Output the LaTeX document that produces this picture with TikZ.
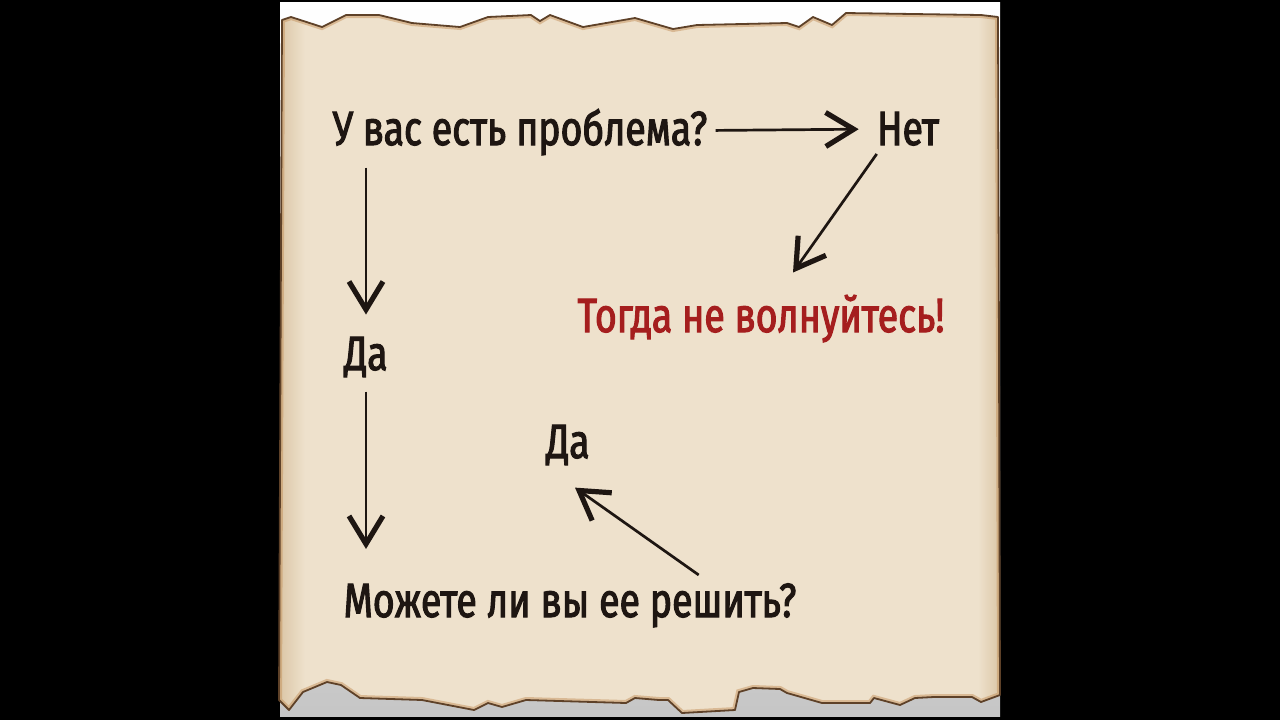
\documentclass[tikz,border=0pt]{standalone}
\usepackage{fontspec}
\setmainfont{Fira Sans}[FakeStretch=0.78, FakeBold=2.2]
\usetikzlibrary{arrows.meta,positioning,calc}

\definecolor{paper}{HTML}{EEE1CC}
\definecolor{paperdark}{HTML}{DBC6A6}
\definecolor{burnt}{HTML}{5E4128}
\definecolor{scorch}{HTML}{C08A52}
\definecolor{ink}{HTML}{1E1612}
\definecolor{alert}{HTML}{A51E1E}

\tikzset{
  txt/.style={font=\fontsize{24}{28}\selectfont, text=ink, inner sep=1pt, anchor=base},
  redtxt/.style={txt, text=alert},
  arr/.style={draw=ink, line width=1.35pt, -{Straight Barb[length=14pt,width=17pt,line width=2.6pt]}},
}

\def\parchment{(279,700) -- (282,20) -- (291,17) -- (322,27) -- (346,15) -- (379,15) -- (412,23)
  -- (460,27) -- (488,17) -- (531,15) -- (540,21) -- (550,15) -- (583,27) -- (635,18)
  -- (673,29) -- (697,25) -- (787,23) -- (799,27) -- (813,17) -- (832,25) -- (846,13)
  -- (981,15) -- (998,17) -- (1000,695) -- (981,702) -- (972,697) -- (934,697) -- (915,698)
  -- (900,705) -- (874,698) -- (870,703) -- (822,703) -- (787,693) -- (780,689) -- (753,688)
  -- (739,692) -- (735,710) -- (682,713) -- (668,700) -- (659,700) -- (635,698) -- (626,703)
  -- (526,700) -- (502,707) -- (488,703) -- (474,710) -- (422,700) -- (360,698) -- (341,685)
  -- (327,682) -- (303,692) -- (289,710) -- cycle}

\begin{document}
\begin{tikzpicture}[x=0.5pt,y=-0.5pt]
\fill[black] (0,0) rectangle (1280,720);
\useasboundingbox (0,0) rectangle (1280,720);

% sheet under the parchment
\shade[top color=white, bottom color=gray!45] (280,2) rectangle (1000,716);

% parchment
\fill[paper] \parchment;
\begin{scope}
  \clip \parchment;
  \shade[left color=paperdark, right color=paper] (279,0) rectangle (305,720);
  \shade[left color=paper, right color=paperdark] (978,0) rectangle (1000,720);
  \draw[scorch, opacity=.45, line width=3pt] \parchment;
\end{scope}
\draw[burnt, line width=.9pt, line join=round] \parchment;

% texts
\node[txt] (q1) at (520,145) {У вас есть проблема?};
\node[txt] (no) at (908,145) {Нет};
\node[redtxt] (calm) at (761,332) {Тогда не волнуйтесь!};
\node[txt] (yes1) at (366,370) {Да};
\node[txt] (yes2) at (568,458) {Да};
\node[txt] (q2) at (570,617) {Можете ли вы ее решить?};

% arrows
\draw[arr, shorten <=3pt, shorten >=8pt] (q1) -- (no);
\draw[arr] (yes1 |- q1.south) ++(0,10) -- ($(yes1.north)+(0,-20)$);
\draw[arr] ($(yes1.south)+(0,12)$) -- ($(q2.north -| yes1)+(0,-32)$);
\draw[arr] ($(no.south west)+(2,6)$) -- ($(calm.north)+(32,-20)$);
\draw[arr] ($(q2.north east)+(-100,-6)$) -- ($(yes2.south)+(7,20)$);
\end{tikzpicture}
\end{document}
